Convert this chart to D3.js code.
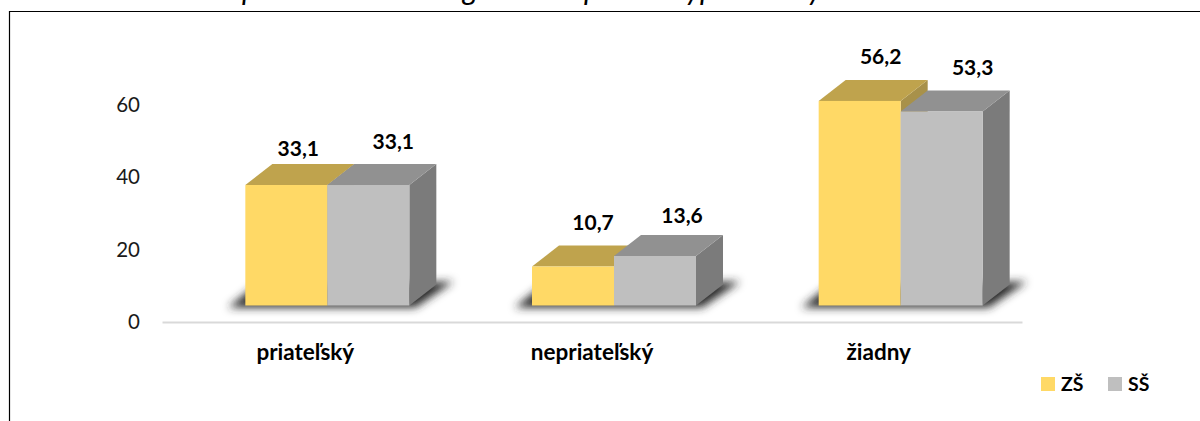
<!DOCTYPE html>
<html><head><meta charset="utf-8">
<script src="https://cdn.jsdelivr.net/npm/d3@7/dist/d3.min.js"></script>
<style>html,body{margin:0;padding:0;background:#fff;overflow:hidden}svg{display:block}text{font-family:Lato,"Open Sans",sans-serif;fill:#000}</style>
</head><body><div id="c"></div>
<script>
const categories = ["priateľský", "nepriateľský", "žiadny"];
const seriesNames = ["ZŠ", "SŠ"];
const valuesZS = [33.1, 10.7, 56.2];
const valuesSS = [33.1, 13.6, 53.3];
const yTicks = [0, 20, 40, 60];
const titleVisibleGlyphs = ["p", "g", "p", "y", "p", "y"];

const W = 1200, H = 421;
const svg = d3.select("#c").append("svg").attr("width", W).attr("height", H);
const defs = svg.append("defs");
defs.append("filter").attr("id","blur").attr("x","-20%").attr("y","-80%").attr("width","140%").attr("height","260%")
  .append("feGaussianBlur").attr("stdDeviation", 4.2);

const palette = [
  {front:"#FFD966", top:"#BFA34D", side:"#A8914A"},
  {front:"#BFBFBF", top:"#919191", side:"#7B7B7B"}
];
const legendFill = ["#FFD966", "#BFBFBF"];
const depthX = 27, depthY = 21, barW = 82, barShift = 22;

// chart frame (open at the right and bottom, cropped by the picture)
svg.append("path").attr("d", `M9.5,${H}V11.5H${W}`).attr("fill","none").attr("stroke","#000").attr("stroke-width",1.2);

// title, cropped by the top of the picture: only the descenders are visible
const titleX = [250, 470, 592, 693, 708, 815];
svg.append("g").selectAll("text").data(titleVisibleGlyphs).join("text")
  .attr("x",(d,i)=>titleX[i]).attr("y",0).attr("text-anchor","middle")
  .attr("font-size",30).attr("font-style","italic").text(d=>d);

const x = d3.scaleBand().domain(categories).range([162,1022]);
const yBar = d3.scaleLinear().domain([0,60]).range([305.5,87.1]);
const yAxisScale = d3.scaleLinear().domain([0,60]).range([322,104.5]);

// value axis labels
const gy = svg.append("g").attr("transform","translate(140,0)")
  .call(d3.axisLeft(yAxisScale).tickValues(yTicks).tickSize(0).tickPadding(0));
gy.select(".domain").remove();
gy.selectAll("text").attr("font-size",20.5).style("font-family",'Lato,"Open Sans",sans-serif').attr("dy","0.34em").style("fill","#1a1a1a");

// category axis
const gx = svg.append("g").attr("transform","translate(0,322)")
  .call(d3.axisBottom(x).tickSize(0).tickPadding(22));
gx.select(".domain").attr("stroke","#d9d9d9").attr("stroke-width",2);
gx.selectAll("text").attr("font-size",22.5).attr("font-weight",700).style("font-family",'Lato,"Open Sans",sans-serif').attr("dy","0.71em").style("fill","#000");

const pts = a => a.map(p=>p.join(",")).join(" ");
const base = yBar(0);
const rows = categories.map((c,i)=>({c, vals:[valuesZS[i], valuesSS[i]]}));

const groups = svg.append("g").selectAll("g").data(rows).join("g");

// floor shadow
groups.append("polygon").attr("fill","#2a2a2a").attr("filter","url(#blur)")
  .attr("points", d=>{
    const l = x(d.c)+x.bandwidth()/2+barShift-barW, r = l+2*barW;
    return pts([[l-17,base+2],[l+8,base-18],[r+44,base-24],[r+6,base+2]]);
  });

// labels offset from the top centre of each bar
const labelDx = [[12,25],[20,27],[21,31]];
const labelDy = [[-36,-43],[-44,-40],[-44,-44]];

groups.each(function(d,ci){
  const g = d3.select(this);
  d.vals.forEach((v,si)=>{
    const x0 = x(d.c)+x.bandwidth()/2+barShift-barW+si*barW, x1 = x0+barW, t = yBar(v);
    const col = palette[si];
    g.append("polygon").attr("fill",col.side).attr("points",pts([[x1,base],[x1,t],[x1+depthX,t-depthY],[x1+depthX,base-depthY]]));
    g.append("polygon").attr("fill",col.top).attr("points",pts([[x0,t],[x0+depthX,t-depthY],[x1+depthX,t-depthY],[x1,t]]));
    g.append("rect").attr("x",x0).attr("y",t).attr("width",barW).attr("height",base-t).attr("fill",col.front);
  });
});
groups.each(function(d,ci){
  const g = d3.select(this);
  d.vals.forEach((v,si)=>{
    const x0 = x(d.c)+x.bandwidth()/2+barShift-barW+si*barW;
    g.append("text").attr("x",x0+barW/2+labelDx[ci][si]).attr("y",yBar(v)+labelDy[ci][si])
      .attr("dy","0.35em").attr("text-anchor","middle").attr("font-size",21).attr("font-weight",700)
      .text(String(v.toFixed(1)).replace(".",","));
  });
});

// legend
const legendX = d3.scalePoint().domain(seriesNames).range([1041,1108]);
const lg = svg.append("g").selectAll("g").data(seriesNames).join("g").attr("transform",d=>`translate(${legendX(d)},377)`);
lg.append("rect").attr("width",14).attr("height",14).attr("fill",(d,i)=>legendFill[i]);
lg.append("text").attr("x",20).attr("y",7).attr("dy","0.35em").attr("font-size",19.5).attr("font-weight",700).text(d=>d);
</script></body></html>
